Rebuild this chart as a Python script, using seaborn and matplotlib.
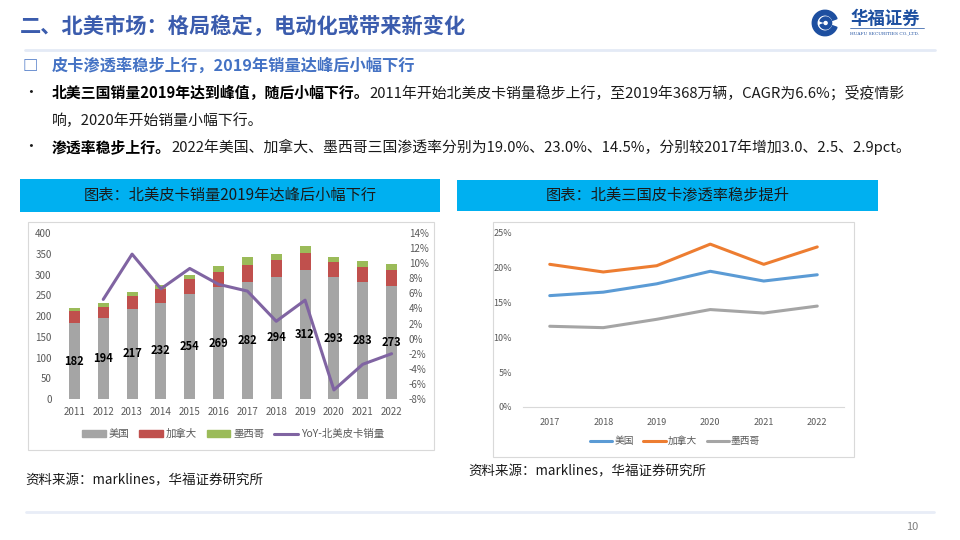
import numpy as np
import pandas as pd
import matplotlib
matplotlib.use("Agg")
import matplotlib.pyplot as plt
from matplotlib.patches import Rectangle, Patch, Wedge
from matplotlib.lines import Line2D
import seaborn as sns

# ---- data: north america pickup sales (10k units) ----
years = ["2011", "2012", "2013", "2014", "2015", "2016",
         "2017", "2018", "2019", "2020", "2021", "2022"]
sales_us = [182, 194, 217, 232, 254, 269, 282, 294, 312, 293, 283, 273]
sales_ca = [29, 28, 32, 33, 35, 38, 42, 40, 40, 38, 35, 37]
sales_mx = [9, 9, 9, 10, 11, 14, 17, 16, 16, 11, 14, 15]
yoy_years = years[1:]
yoy = [5.2, 11.2, 6.6, 9.3, 7.2, 6.3, 2.3, 5.1, -6.8, -3.4, -2.0]

# ---- data: penetration rate (%) ----
pen_years = [2017, 2018, 2019, 2020, 2021, 2022]
pen_us = [16.0, 16.5, 17.7, 19.5, 18.1, 19.0]
pen_ca = [20.5, 19.4, 20.3, 23.4, 20.5, 23.0]
pen_mx = [11.6, 11.4, 12.6, 14.0, 13.5, 14.5]
countries = ["美国", "加拿大", "墨西哥"]

sns.set_theme(style="white")
plt.rcParams["font.family"] = ["Noto Sans CJK SC", "DejaVu Sans"]
plt.rcParams["axes.unicode_minus"] = False

W, H = 960, 540
fig = plt.figure(figsize=(9.6, 5.4), dpi=100)
fig.patch.set_facecolor("white")


def rect(x0, y0, x1, y1):
    return [x0 / W, 1 - y1 / H, (x1 - x0) / W, (y1 - y0) / H]


def fx(x):
    return x / W


def fy(y):
    return 1 - y / H


bg = fig.add_axes([0, 0, 1, 1])
bg.set_xlim(0, W)
bg.set_ylim(H, 0)
bg.axis("off")

# ---- slide header ----
blue_title = "#3B5CAD"
bg.text(20, 26, "二、北美市场：格局稳定，电动化或带来新变化", fontsize=15.3,
        fontweight="bold", color=blue_title, va="center", ha="left")
bg.plot([25, 935], [50, 50], color="#E4EAF6", lw=2)

# logo
logo = fig.add_axes(rect(811, 9, 839, 37))
logo.set_xlim(-1.1, 1.1)
logo.set_ylim(-1.1, 1.1)
logo.set_aspect("equal")
logo.axis("off")
logo.add_patch(Wedge((0, 0), 1.0, 20, 340, width=0.36, color="#1D4FA0"))
logo.add_patch(Wedge((0.05, 0), 0.47, 200, 520, width=0.24, color="#1D4FA0"))
bg.text(850, 19, "华福证券", fontsize=12.5, fontweight="bold", color="#1D4FA0",
        va="center", ha="left")
bg.plot([850, 924], [28, 28], color="#1D4FA0", lw=0.5)
bg.text(850, 33, "HUAFU SECURITIES CO.,LTD.", fontsize=3.2, color="#1D4FA0",
        va="center", ha="left", family=["DejaVu Serif"])

# subheading
bg.text(30, 66, "□", fontsize=11, fontweight="bold", color="#4472C4",
        va="center", ha="center")
bg.text(52, 66, "皮卡渗透率稳步上行，2019年销量达峰后小幅下行", fontsize=11.7,
        fontweight="bold", color="#4472C4", va="center", ha="left")

body = 10.7
bg.text(31, 93, "•", fontsize=body, va="center", ha="center", color="#1a1a1a")
t1 = bg.text(52, 93, "北美三国销量2019年达到峰值，随后小幅下行。", fontsize=body,
             fontweight="bold", va="center", ha="left", color="#000000")
bg.annotate("2011年开始北美皮卡销量稳步上行，至2019年368万辆，CAGR为6.6%；受疫情影",
            xy=(1, 0), xycoords=t1, va="bottom", ha="left", fontsize=body,
            color="#1a1a1a")
bg.text(52, 121, "响，2020年开始销量小幅下行。", fontsize=body, va="center",
        ha="left", color="#1a1a1a")
bg.text(31, 147, "•", fontsize=body, va="center", ha="center", color="#1a1a1a")
t2 = bg.text(52, 147, "渗透率稳步上行。", fontsize=body, fontweight="bold",
             va="center", ha="left", color="#000000")
bg.annotate("2022年美国、加拿大、墨西哥三国渗透率分别为19.0%、23.0%、14.5%，分别较2017年增加3.0、2.5、2.9pct。",
            xy=(1, 0), xycoords=t2, va="bottom", ha="left", fontsize=body,
            color="#1a1a1a")

# chart header boxes
for (x0, y0, x1, y1), label in [((20, 179, 440, 212), "图表：北美皮卡销量2019年达峰后小幅下行"),
                                ((457, 180, 878, 211), "图表：北美三国皮卡渗透率稳步提升")]:
    bg.add_patch(Rectangle((x0, y0), x1 - x0, y1 - y0, color="#00B0F0", lw=0))
    bg.text((x0 + x1) / 2, (y0 + y1) / 2, label, fontsize=11, color="#1a1a1a",
            va="center", ha="center")

# chart borders
bg.add_patch(Rectangle((28, 222), 434 - 28, 450 - 222, fill=False,
                       edgecolor="#D9D9D9", lw=0.8))
bg.add_patch(Rectangle((493, 222), 854 - 493, 457 - 222, fill=False,
                       edgecolor="#D9D9D9", lw=0.8))

# ---- left chart: stacked bars + yoy line ----
c_us, c_ca, c_mx, c_yoy = "#A5A5A5", "#C0504D", "#9BBB59", "#8064A2"
tick_color = "#595959"
us = np.array(sales_us)
ca = np.array(sales_ca)
mx = np.array(sales_mx)

ax = fig.add_axes(rect(60, 233, 406, 399))
sns.barplot(x=years, y=us + ca + mx, color=c_mx, saturation=1, width=0.38,
            linewidth=0, ax=ax)
sns.barplot(x=years, y=us + ca, color=c_ca, saturation=1, width=0.38,
            linewidth=0, ax=ax)
sns.barplot(x=years, y=us, color=c_us, saturation=1, width=0.38,
            linewidth=0, ax=ax)
for i, v in enumerate(sales_us):
    ax.text(i, v / 2, str(v), ha="center", va="center", fontsize=8,
            fontweight="bold", color="#000000")
ax.set_ylim(0, 400)
ax.set_yticks(range(0, 401, 50))
ax.set_xlabel("")
ax.set_ylabel("")
ax.tick_params(axis="both", length=0, labelsize=7, labelcolor=tick_color)
ax.tick_params(axis="y", pad=6)
ax.tick_params(axis="x", pad=6)
for s in ax.spines.values():
    s.set_visible(False)

ax2 = ax.twinx()
yoy_pos = [years.index(y) for y in yoy_years]
sns.lineplot(x=yoy_pos, y=yoy, color=c_yoy, lw=2.2, ax=ax2)
ax2.set_ylim(-8, 14)
ax2.set_yticks(range(-8, 15, 2))
ax2.set_yticklabels([f"{v}%" for v in range(-8, 15, 2)])
ax2.tick_params(axis="y", length=0, labelsize=7, labelcolor=tick_color, pad=2)
for s in ax2.spines.values():
    s.set_visible(False)
ax.set_xlim(-0.5, len(years) - 0.5)

handles = [Patch(color=c_us, label="美国"), Patch(color=c_ca, label="加拿大"),
           Patch(color=c_mx, label="墨西哥"),
           Line2D([0], [0], color=c_yoy, lw=2.2, label="YoY-北美皮卡销量")]
fig.legend(handles=handles, loc="center", bbox_to_anchor=(fx(233), fy(434)),
           ncol=4, frameon=False, fontsize=7.5, handlelength=2.3,
           handleheight=0.6, columnspacing=0.9, handletextpad=0.3,
           labelcolor=tick_color)

# ---- right chart: penetration lines ----
pen_df = pd.DataFrame({
    "year": pen_years * 3,
    "rate": pen_us + pen_ca + pen_mx,
    "country": [c for c in countries for _ in pen_years],
})
palette = {"美国": "#5B9BD5", "加拿大": "#ED7D31", "墨西哥": "#A5A5A5"}

ax3 = fig.add_axes(rect(523, 233, 844, 407))
sns.lineplot(data=pen_df, x="year", y="rate", hue="country", palette=palette,
             lw=2.2, legend=False, ax=ax3)
ax3.set_ylim(0, 25)
ax3.set_yticks(range(0, 26, 5))
ax3.set_yticklabels([f"{v}%" for v in range(0, 26, 5)])
ax3.set_xlim(pen_years[0] - 0.5, pen_years[-1] + 0.5)
ax3.set_xticks(pen_years)
ax3.set_xlabel("")
ax3.set_ylabel("")
ax3.tick_params(axis="both", length=0, labelsize=6.5, labelcolor=tick_color)
ax3.tick_params(axis="y", pad=8)
ax3.tick_params(axis="x", pad=8)
for k, s in ax3.spines.items():
    s.set_visible(k == "bottom")
ax3.spines["bottom"].set_color("#D9D9D9")
ax3.spines["bottom"].set_linewidth(0.8)

handles2 = [Line2D([0], [0], color=palette[c], lw=2.2, label=c) for c in countries]
fig.legend(handles=handles2, loc="center", bbox_to_anchor=(fx(675), fy(441)),
           ncol=3, frameon=False, fontsize=7, handlelength=2.3,
           columnspacing=1.0, handletextpad=0.2, labelcolor=tick_color)

# ---- sources & footer ----
bg.text(25, 480, "资料来源：marklines，华福证券研究所", fontsize=9.7,
        style="italic", color="#1a1a1a", va="center", ha="left")
bg.text(468, 471, "资料来源：marklines，华福证券研究所", fontsize=9.7,
        style="italic", color="#1a1a1a", va="center", ha="left")
bg.plot([26, 934], [512, 512], color="#E8EDF7", lw=2)
bg.text(912, 527, "10", fontsize=8, color="#7F7F7F", va="center", ha="center")

fig.savefig("out.png", dpi=100)
